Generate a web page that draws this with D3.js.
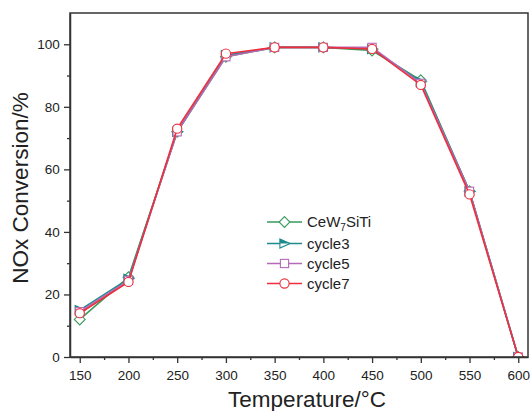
<!DOCTYPE html>
<html><head><meta charset="utf-8">
<script src="https://cdn.jsdelivr.net/npm/d3@7"></script>
<style>body{margin:0;background:#fff}svg{display:block}text{font-family:"Liberation Sans",Arial,sans-serif;fill:#222}</style>
</head><body>
<script>
const temps = [150,200,250,300,350,400,450,500,550,600];
const ceW7SiTi = [12,25.5,72,96,99,99,98,88.5,53,0];
const cycle3 = [15,25,72,96.5,99,99,98.5,88,53,0];
const cycle5 = [14.5,24.5,72,96,99,99,99,87.5,53,0];
const cycle7 = [14,24,73,97,99,99,98.5,87,52,0];
const xTicks = [150,200,250,300,350,400,450,500,550,600];
const yTicks = [0,20,40,60,80,100];
const seriesNames = ["CeW7SiTi","cycle3","cycle5","cycle7"];
const seriesColors = ["#3a9a5c","#1f8a8c","#b56ab8","#ee2f3c"];
const seriesMarkers = ["diamond","halfTri","square","circle"];
const seriesValues = [ceW7SiTi,cycle3,cycle5,cycle7];

const W=531,H=411;
const svg=d3.select("body").append("svg").attr("width",W).attr("height",H);
const m={l:70,t:13,r:528,b:357};
const x=d3.scaleLinear().domain([140,610]).range([m.l,m.r]);
const y=d3.scaleLinear().domain([0,110]).range([m.b,m.t]);

svg.append("defs").append("clipPath").attr("id","clip").append("rect")
  .attr("x",m.l).attr("y",m.t).attr("width",m.r-m.l).attr("height",m.b-m.t);

function marker(g,type,cx,cy,color){
  const s=4.6;
  if(type==="diamond"){
    g.append("path").attr("d",`M${cx},${cy-s-0.8}L${cx+s+0.8},${cy}L${cx},${cy+s+0.8}L${cx-s-0.8},${cy}Z`).attr("fill","#fff").attr("stroke",color).attr("stroke-width",1.1);
  } else if(type==="square"){
    g.append("rect").attr("x",cx-s+0.5).attr("y",cy-s+0.5).attr("width",2*s-1).attr("height",2*s-1).attr("fill","#fff").attr("stroke",color).attr("stroke-width",1.1);
  } else if(type==="circle"){
    g.append("circle").attr("cx",cx).attr("cy",cy).attr("r",s).attr("fill","#fff").attr("stroke",color).attr("stroke-width",1.1);
  } else {
    g.append("path").attr("d",`M${cx-s},${cy-s}L${cx+s+1},${cy}L${cx-s},${cy+s}Z`).attr("fill","#fff").attr("stroke",color).attr("stroke-width",1.1);
    g.append("path").attr("d",`M${cx-s},${cy-s}L${cx+s+1},${cy}L${cx-s},${cy}Z`).attr("fill",color);
  }
}

const line=d3.line().x((d,i)=>x(temps[i])).y(d=>y(d));
const plot=svg.append("g").attr("clip-path","url(#clip)");
seriesValues.forEach((vals,k)=>{
  const g=plot.append("g");
  g.append("path").datum(vals).attr("d",line).attr("fill","none").attr("stroke",seriesColors[k]).attr("stroke-width",1.6);
  vals.forEach((v,i)=>marker(g,seriesMarkers[k],x(temps[i]),y(v),seriesColors[k]));
});

// frame
svg.append("rect").attr("x",m.l).attr("y",m.t).attr("width",m.r-m.l).attr("height",m.b-m.t)
  .attr("fill","none").attr("stroke","#333").attr("stroke-width",1.5);

// x axis
const xa=svg.append("g").attr("transform",`translate(0,${m.b})`)
  .call(d3.axisBottom(x).tickValues(xTicks).tickSize(6).tickSizeOuter(0).tickFormat(d3.format("d")));
svg.append("g").attr("transform",`translate(0,${m.b})`)
  .call(d3.axisBottom(x).tickValues(d3.range(175,610,50)).tickSize(3).tickFormat("")).select(".domain").remove();
// y axis
const ya=svg.append("g").attr("transform",`translate(${m.l},0)`)
  .call(d3.axisLeft(y).tickValues(yTicks).tickSize(6).tickSizeOuter(0).tickFormat(d3.format("d")));
svg.append("g").attr("transform",`translate(${m.l},0)`)
  .call(d3.axisLeft(y).tickValues(d3.range(10,110,20)).tickSize(3).tickFormat("")).select(".domain").remove();
svg.selectAll(".domain").attr("stroke","#333").attr("stroke-width",1.5);
svg.selectAll(".tick line").attr("stroke","#333").attr("stroke-width",1.3);
xa.selectAll("text").attr("font-size",13.5).attr("dy","1.05em").style("font-family","Liberation Sans, Arial, sans-serif").attr("fill","#222");
ya.selectAll("text").attr("font-size",13.5).attr("dx","-0.1em").style("font-family","Liberation Sans, Arial, sans-serif").attr("fill","#222");

// titles
svg.append("text").attr("x",(m.l+m.r)/2+8).attr("y",407).attr("text-anchor","middle").attr("font-size",22.5).text("Temperature/°C");
svg.append("text").attr("transform","translate(28,188) rotate(-90)").attr("text-anchor","middle").attr("font-size",22.5).text("NOx Conversion/%");

// legend
const legY=[222,243.5,263.5,283.5];
seriesNames.forEach((n,k)=>{
  const g=svg.append("g");
  g.append("line").attr("x1",267).attr("x2",302).attr("y1",legY[k]).attr("y2",legY[k]).attr("stroke",seriesColors[k]).attr("stroke-width",1.5);
  marker(g,seriesMarkers[k],284.5,legY[k],seriesColors[k]);
  const t=g.append("text").attr("x",307).attr("y",legY[k]+5).attr("font-size",15);
  if(k===0){ t.append("tspan").text("CeW"); t.append("tspan").attr("font-size",10).attr("dy",4).text("7"); t.append("tspan").attr("dy",-4).text("SiTi"); }
  else t.text(n);
});
</script>
</body></html>
